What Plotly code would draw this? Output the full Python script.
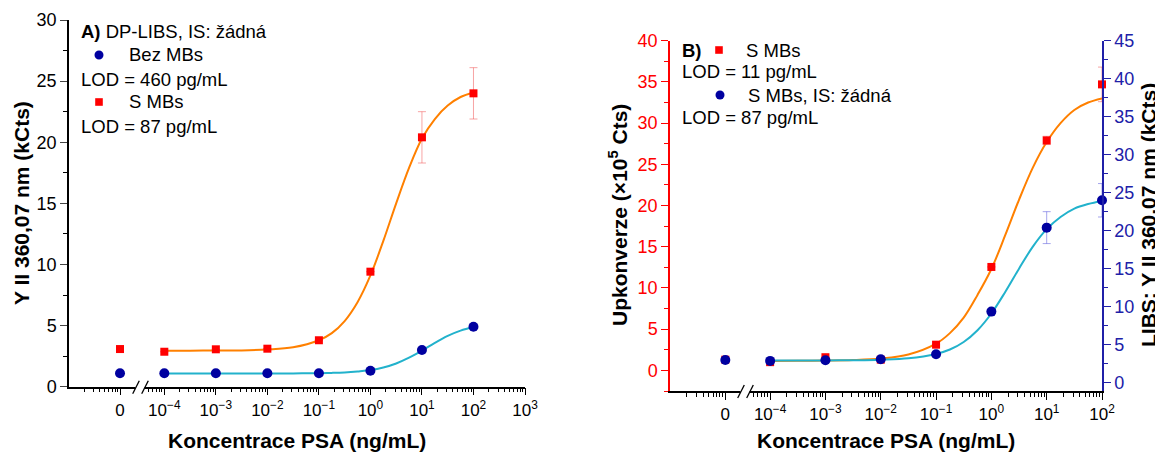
import math
import plotly.graph_objects as go

# ---------------- data ----------------
conc = [0, 1e-4, 1e-3, 1e-2, 1e-1, 1, 10, 100]           # ng/mL (0 shown on a broken axis)
tick_conc = [0, 1e-4, 1e-3, 1e-2, 1e-1, 1, 10, 100, 1000]
tick_text = ["0", "10<sup>−4</sup>", "10<sup>−3</sup>", "10<sup>−2</sup>", "10<sup>−1</sup>",
             "10<sup>0</sup>", "10<sup>1</sup>", "10<sup>2</sup>", "10<sup>3</sup>"]

# Panel A: DP-LIBS, Y II 360,07 nm (kCts)
a_bez_mbs = [1.10, 1.10, 1.10, 1.10, 1.10, 1.31, 3.00, 4.91]
a_s_mbs = [3.08, 2.86, 3.06, 3.11, 3.80, 9.41, 20.4, 24.0]
a_s_mbs_err = [0, 0, 0, 0, 0, 0, 2.1, 2.1]

# Panel B: upconversion (x10^5 Cts) and LIBS (kCts)
b_s_mbs = [1.3, 1.0, 1.6, 1.3, 3.12, 12.55, 27.9, 34.7]
b_s_mbs_err = [0, 0, 0, 0, 0, 0, 0.5, 2.1]
b_libs = [2.99, 2.86, 2.94, 3.07, 3.73, 9.35, 20.4, 24.0]
b_libs_err = [0, 0, 0, 0, 0, 0, 2.1, 2.2]

# fitted curves
fit_conc = [1e-4, 3.16e-4, 1e-3, 3.16e-3, 1e-2, 3.16e-2, 1e-1, 1.78e-1, 3.16e-1, 5.62e-1,
            1, 1.78, 3.16, 5.62, 10, 17.8, 31.6, 56.2, 100]
a_fit_s_mbs = [2.95, 2.95, 2.96, 2.97, 3.04, 3.22, 3.80, 4.38, 5.37, 6.91,
               9.10, 11.93, 15.0, 17.9, 20.3, 21.9, 23.0, 23.7, 24.07]
a_fit_bez = [1.08, 1.08, 1.08, 1.08, 1.08, 1.09, 1.107, 1.13, 1.17, 1.25,
             1.36, 1.57, 1.90, 2.37, 2.96, 3.59, 4.16, 4.59, 4.88]
b_fit_s_mbs = [1.15, 1.16, 1.19, 1.25, 1.43, 1.92, 3.24, 4.52, 6.40, 9.16,
               12.3, 16.4, 20.7, 24.6, 27.7, 30.0, 31.6, 32.5, 33.0]
b_fit_libs = [2.90, 2.90, 2.92, 2.95, 3.02, 3.20, 3.78, 4.36, 5.35, 6.90,
              9.10, 11.93, 15.0, 17.9, 20.2, 21.8, 22.9, 23.5, 23.9]

# ---------------- layout helpers ----------------
PAGE_W, PAGE_H = 1163, 454
OFF = 8                      # default page margin around the plot div
W, H = PAGE_W - OFF, PAGE_H - OFF
FONT = "Liberation Sans, Arial, sans-serif"
RED = "#FF0000"
NAVY = "#0000A0"
ORANGE = "#FF8000"
TEAL = "#22B2CC"
BLUE_AX = "#2020A8"

ZERO_A, START_A = -4.86, -5.85
ZERO_B, START_B = -4.81, -5.81


def px(x):
    return (x - OFF) / W


def py(y):
    return 1 - (y - OFF) / H


def place(values, zero_log):
    return [10 ** zero_log if v == 0 else v for v in values]


def minor_ticks(zero_log, last_decade, first_after_break):
    vals = [10 ** (zero_log - 1 + math.log10(k)) for k in range(2, 10)]
    for n in range(-5, last_decade):
        for k in range(2, 10):
            v = k * 10 ** n
            if v >= first_after_break:
                vals.append(v)
    return vals


fig = go.Figure()

# ---- Panel A ----
fig.add_trace(go.Scatter(x=fit_conc, y=a_fit_s_mbs, mode="lines", line=dict(color=ORANGE, width=2, shape="spline"),
                         xaxis="x", yaxis="y", showlegend=False, hoverinfo="skip"))
fig.add_trace(go.Scatter(x=fit_conc, y=a_fit_bez, mode="lines", line=dict(color=TEAL, width=2, shape="spline"),
                         xaxis="x", yaxis="y", showlegend=False, hoverinfo="skip"))
fig.add_trace(go.Scatter(x=place(conc, ZERO_A), y=a_s_mbs, mode="markers",
                         marker=dict(symbol="square", size=8, color=RED),
                         error_y=dict(type="data", array=a_s_mbs_err, color="rgba(240,90,90,0.55)", thickness=1, width=4),
                         xaxis="x", yaxis="y", showlegend=False, cliponaxis=False))
fig.add_trace(go.Scatter(x=place(conc, ZERO_A), y=a_bez_mbs, mode="markers",
                         marker=dict(symbol="circle", size=10, color=NAVY),
                         xaxis="x", yaxis="y", showlegend=False, cliponaxis=False))

# ---- Panel B ----
fig.add_trace(go.Scatter(x=fit_conc, y=b_fit_s_mbs, mode="lines", line=dict(color=ORANGE, width=2, shape="spline"),
                         xaxis="x2", yaxis="y2", showlegend=False, hoverinfo="skip"))
fig.add_trace(go.Scatter(x=fit_conc, y=b_fit_libs, mode="lines", line=dict(color=TEAL, width=2, shape="spline"),
                         xaxis="x2", yaxis="y3", showlegend=False, hoverinfo="skip"))
fig.add_trace(go.Scatter(x=place(conc, ZERO_B), y=b_s_mbs, mode="markers",
                         marker=dict(symbol="square", size=8, color=RED),
                         error_y=dict(type="data", array=b_s_mbs_err, color="rgba(240,90,90,0.55)", thickness=1, width=4),
                         xaxis="x2", yaxis="y2", showlegend=False, cliponaxis=False))
fig.add_trace(go.Scatter(x=place(conc, ZERO_B), y=b_libs, mode="markers",
                         marker=dict(symbol="circle", size=10, color=NAVY),
                         error_y=dict(type="data", array=b_libs_err, color="rgba(90,90,220,0.55)", thickness=1, width=4),
                         xaxis="x2", yaxis="y3", showlegend=False, cliponaxis=False))

tickfont = dict(family=FONT, size=17, color="black")

common_x = dict(type="log", showgrid=False, zeroline=False, showline=True, linecolor="black", linewidth=1.5,
                ticks="outside", ticklen=7, tickwidth=1.2, tickcolor="black", tickmode="array",
                tickfont=tickfont, fixedrange=True, automargin=False)

fig.update_layout(
    width=W, height=H, margin=dict(l=0, r=0, t=0, b=0, autoexpand=False),
    plot_bgcolor="white", paper_bgcolor="white",
    font=dict(family=FONT, color="black"),
    xaxis=dict(common_x, domain=[px(69), px(525)], anchor="y", range=[START_A, 3],
               tickvals=place(tick_conc, ZERO_A), ticktext=tick_text,
               minor=dict(ticks="outside", ticklen=4, tickwidth=1, tickcolor="black", tickmode="array",
                          tickvals=minor_ticks(ZERO_A, 3, 5e-5))),
    yaxis=dict(domain=[py(386.7), py(20)], anchor="x", range=[0, 30], showgrid=False, zeroline=False,
               showline=True, linecolor="black", linewidth=1.5, ticks="outside", ticklen=7, tickwidth=1.2,
               tickmode="linear", tick0=0, dtick=5, tickfont=dict(family=FONT, size=18, color="black"),
               automargin=False, fixedrange=True,
               minor=dict(ticks="outside", ticklen=4, tickwidth=1, tickcolor="black", dtick=2.5, tick0=0)),
    xaxis2=dict(common_x, domain=[px(670), px(1102)], anchor="y2", range=[START_B, 2],
                tickvals=place(tick_conc[:-1], ZERO_B), ticktext=tick_text[:-1],
                minor=dict(ticks="outside", ticklen=4, tickwidth=1, tickcolor="black", tickmode="array",
                           tickvals=minor_ticks(ZERO_B, 2, 5e-5))),
    yaxis2=dict(domain=[py(391), py(40.7)], anchor="x2", range=[-2.5, 40], showgrid=False, zeroline=False,
                showline=True, linecolor=RED, linewidth=1.5, ticks="outside", ticklen=7, tickwidth=1.2,
                tickcolor=RED, tickmode="linear", tick0=0, dtick=5, automargin=False, fixedrange=True,
                tickfont=dict(family=FONT, size=18, color=RED),
                minor=dict(ticks="outside", ticklen=4, tickwidth=1, tickcolor=RED, dtick=2.5, tick0=0)),
    yaxis3=dict(overlaying="y2", side="right", anchor="x2", range=[-1.1, 45], showgrid=False, zeroline=False,
                showline=True, linecolor=BLUE_AX, linewidth=1.5, ticks="outside", ticklen=7, tickwidth=1.2,
                tickcolor=BLUE_AX, tickmode="linear", tick0=0, dtick=5, automargin=False, fixedrange=True,
                tickfont=dict(family=FONT, size=18, color=BLUE_AX),
                minor=dict(ticks="outside", ticklen=4, tickwidth=1, tickcolor=BLUE_AX, dtick=2.5, tick0=0)),
)

# ---------------- text ----------------
ann = []


def text(x, y, s, size=18, bold=False, angle=0, xanchor="left", color="black"):
    if bold:
        s = "<b>" + s + "</b>"
    ann.append(dict(x=px(x), y=py(y), xref="paper", yref="paper", text=s, showarrow=False,
                    xanchor=xanchor, yanchor="middle", textangle=angle,
                    font=dict(family=FONT, size=size, color=color)))


# axis titles
text(21, 203, "Y II 360,07 nm (kCts)", size=21, bold=True, angle=-90, xanchor="center")
text(297, 440, "Koncentrace PSA (ng/mL)", size=21, bold=True, xanchor="center")
text(618, 215, "Upkonverze (×10<sup>5</sup> Cts)", size=21, bold=True, angle=-90, xanchor="center")
text(1148, 215, "LIBS: Y II 360,07 nm (kCts)", size=21, bold=True, angle=-90, xanchor="center")
text(886, 440, "Koncentrace PSA (ng/mL)", size=21, bold=True, xanchor="center")

# legend panel A
text(79, 31, "<b>A)</b> DP-LIBS, IS: žádná", size=18.5)
text(127, 55, "Bez MBs", size=18.5)
text(79, 79, "LOD = 460 pg/mL", size=18.5)
text(127, 102, "S MBs", size=18.5)
text(79, 126, "LOD = 87 pg/mL", size=18.5)

# legend panel B
text(680, 50, "<b>B)</b>", size=18.5)
text(744, 50, "S MBs", size=18.5)
text(680, 72, "LOD = 11 pg/mL", size=18.5)
text(746, 95, "S MBs, IS: žádná", size=18.5)
text(680, 117, "LOD = 87 pg/mL", size=18.5)

fig.update_layout(annotations=ann)

# ---------------- shapes: legend symbols and axis breaks ----------------
shapes = []


def circle(cx, cy, r, color):
    shapes.append(dict(type="circle", xref="paper", yref="paper", x0=px(cx - r), x1=px(cx + r),
                       y0=py(cy + r), y1=py(cy - r), fillcolor=color, line=dict(width=0)))


def square(cx, cy, r, color):
    shapes.append(dict(type="rect", xref="paper", yref="paper", x0=px(cx - r), x1=px(cx + r),
                       y0=py(cy + r), y1=py(cy - r), fillcolor=color, line=dict(width=0)))


circle(99, 55, 4.5, NAVY)
square(99, 102, 3.8, RED)
square(719, 50, 3.8, RED)
circle(720, 95, 4.5, NAVY)


def axis_break(cx, ya):
    shapes.append(dict(type="rect", xref="paper", yref="paper", x0=px(cx - 5), x1=px(cx + 4),
                       y0=py(ya + 2.5), y1=py(ya - 2.5), fillcolor="white", line=dict(width=0)))
    for dx in (-4.5, 4.5):
        shapes.append(dict(type="line", xref="paper", yref="paper",
                           x0=px(cx + dx - 3.3), y0=py(ya + 7), x1=px(cx + dx + 3.3), y1=py(ya - 6),
                           line=dict(color="black", width=1.3)))


axis_break(140.5, 386.7)
axis_break(745.5, 391)

fig.update_layout(shapes=shapes)

fig.write_html("out.html")
